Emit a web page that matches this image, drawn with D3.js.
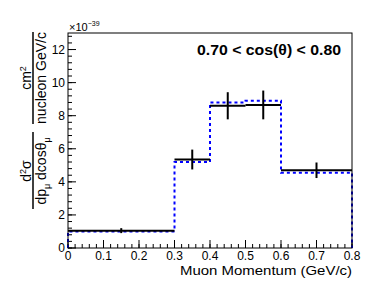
<!DOCTYPE html>
<html>
<head>
<meta charset="utf-8">
<script src="https://cdn.jsdelivr.net/npm/d3@7"></script>
<style>
  body { margin: 0; background: #fff; }
  svg text { font-family: "Liberation Sans", Arial, sans-serif; }
</style>
</head>
<body>
<div id="chart"></div>
<script>
/// DATA ///
const binEdges = [0, 0.3, 0.4, 0.5, 0.6, 0.8];
const dataValues = [1.05, 5.35, 8.6, 8.65, 4.7];
const dataErrors = [0.15, 0.6, 0.82, 0.87, 0.47];
const mcValues = [1.0, 5.2, 8.8, 8.9, 4.55];
const xTicks = [0, 0.1, 0.2, 0.3, 0.4, 0.5, 0.6, 0.7, 0.8];
const yTicks = [0, 2, 4, 6, 8, 10, 12];

const W = 387, H = 283;
const margin = { left: 68, right: 35, top: 33, bottom: 35 };
const width = W - margin.left - margin.right;
const height = H - margin.top - margin.bottom;

const svgRoot = d3.select("#chart").append("svg")
  .attr("width", W).attr("height", H);

const svg = svgRoot.append("g")
  .attr("transform", `translate(${margin.left},${margin.top})`);

// scales
const x = d3.scaleLinear().domain([0, 0.8]).range([0, width]);
const y = d3.scaleLinear().domain([0, 13]).range([height, 0]);

// minor ticks (ROOT style, inside the frame)
const xMinor = d3.range(0, 0.8001, 0.02);
const yMinor = d3.range(0, 13.001, 0.4);

function tickLines(data, len, horiz) {
  svg.append("g").selectAll("line")
    .data(data).join("line")
    .attr("x1", d => horiz ? x(d) : 0)
    .attr("x2", d => horiz ? x(d) : len)
    .attr("y1", d => horiz ? height : y(d))
    .attr("y2", d => horiz ? height - len : y(d))
    .attr("stroke", "#000").attr("stroke-width", 1);
}
tickLines(xMinor, 4, true);
tickLines(xTicks, 8, true);
tickLines(yMinor, 4, false);
tickLines(yTicks, 8, false);

// tick labels
svg.append("g").selectAll("text")
  .data(xTicks).join("text")
  .attr("x", d => x(d)).attr("y", height + 12)
  .attr("text-anchor", "middle")
  .attr("font-size", "12px")
  .text(d => d === 0 ? "0" : d3.format(".1f")(d));

svg.append("g").selectAll("text")
  .data(yTicks).join("text")
  .attr("x", -3).attr("y", d => y(d))
  .attr("dy", "0.35em")
  .attr("text-anchor", "end")
  .attr("font-size", "12px")
  .text(d => d);

// MC histogram (blue dashed step)
const stepPts = [[0, 0]];
mcValues.forEach((v, i) => {
  stepPts.push([binEdges[i], v]);
  stepPts.push([binEdges[i + 1], v]);
});
stepPts.push([0.8, 0]);

svg.append("path")
  .datum(stepPts)
  .attr("fill", "none")
  .attr("stroke", "#0000ff")
  .attr("stroke-width", 2)
  .attr("stroke-dasharray", "3,3")
  .attr("d", d3.line().x(d => x(d[0])).y(d => y(d[1])));

// data points: bin-width bars + vertical errors
const pts = dataValues.map((v, i) => ({
  lo: binEdges[i], hi: binEdges[i + 1],
  c: (binEdges[i] + binEdges[i + 1]) / 2, v, e: dataErrors[i]
}));

svg.append("g").selectAll("line")
  .data(pts).join("line")
  .attr("x1", d => x(d.lo)).attr("x2", d => x(d.hi))
  .attr("y1", d => y(d.v)).attr("y2", d => y(d.v))
  .attr("stroke", "#000").attr("stroke-width", 2);

svg.append("g").selectAll("line")
  .data(pts).join("line")
  .attr("x1", d => x(d.c)).attr("x2", d => x(d.c))
  .attr("y1", d => y(d.v + d.e)).attr("y2", d => y(d.v - d.e))
  .attr("stroke", "#000").attr("stroke-width", 2);

// frame
svg.append("rect")
  .attr("x", 0).attr("y", 0)
  .attr("width", width).attr("height", height)
  .attr("fill", "none").attr("stroke", "#000").attr("stroke-width", 1);

// exponent label
const ex = svg.append("text").attr("x", 1).attr("y", -2).attr("font-size", "11px");
ex.append("tspan").text("\u00d710");
ex.append("tspan").attr("dy", -5).attr("font-size", "7px").text("\u221239");

// cut label
svg.append("text")
  .attr("x", width - 11).attr("y", 22)
  .attr("text-anchor", "end")
  .attr("font-size", "14px").attr("font-weight", "bold")
  .attr("textLength", 144).attr("lengthAdjust", "spacingAndGlyphs")
  .text("0.70 < cos(\u03b8) < 0.80");

// x title
svgRoot.append("text")
  .attr("x", margin.left + width).attr("y", 275)
  .attr("text-anchor", "end")
  .attr("font-size", "12.5px")
  .attr("textLength", 172).attr("lengthAdjust", "spacingAndGlyphs")
  .text("Muon Momentum (GeV/c)");

// y title (rotated fractions)
const yt = svgRoot.append("g").attr("transform", "rotate(-90)");

function fraction(cy, y0, y1, num, den) {
  yt.append("line")
    .attr("x1", -y0).attr("x2", -y1)
    .attr("y1", 33).attr("y2", 33)
    .attr("stroke", "#000").attr("stroke-width", 1.5);
  const n = yt.append("text").attr("x", -cy).attr("y", 30.5)
    .attr("text-anchor", "middle").attr("font-size", "14px");
  num(n);
  const d = yt.append("text").attr("x", -cy).attr("y", 46)
    .attr("text-anchor", "middle").attr("font-size", "14px");
  den(d);
}

fraction(171, 209, 132,
  t => {
    t.append("tspan").text("d");
    t.append("tspan").attr("dy", -5).attr("font-size", "9px").text("2");
    t.append("tspan").attr("dy", 5).text("\u03c3");
  },
  t => {
    t.append("tspan").text("dp");
    t.append("tspan").attr("dy", 4).attr("font-size", "9px").text("\u03bc");
    t.append("tspan").attr("dy", -4).text(" dcos\u03b8");
    t.append("tspan").attr("dy", 4).attr("font-size", "9px").text("\u03bc");
  });

fraction(78, 124, 32,
  t => {
    t.append("tspan").text("cm");
    t.append("tspan").attr("dy", -5).attr("font-size", "9px").text("2");
  },
  t => {
    t.append("tspan").text("nucleon GeV/c");
  });
</script>
</body>
</html>
